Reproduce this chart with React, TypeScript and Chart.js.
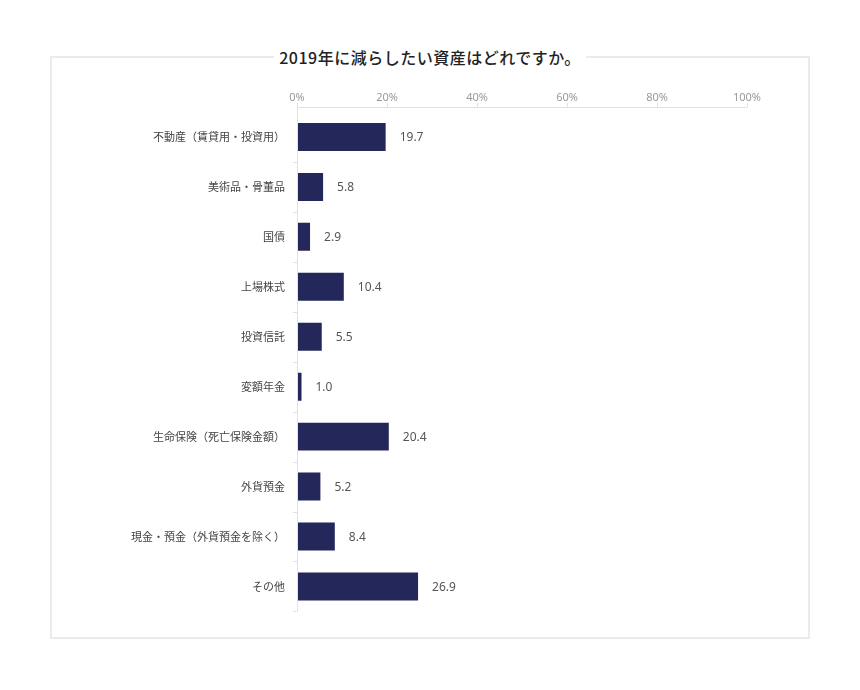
import { useRef, useEffect } from "react";
import { Chart, registerables } from "chart.js";

Chart.register(...registerables);

const title = "2019年に減らしたい資産はどれですか。";

const categories = [
    "不動産（賃貸用・投資用）",
    "美術品・骨董品",
    "国債",
    "上場株式",
    "投資信託",
    "変額年金",
    "生命保険（死亡保険金額）",
    "外貨預金",
    "現金・預金（外貨預金を除く）",
    "その他",
];

const values = [19.7, 5.8, 2.9, 10.4, 5.5, 1.0, 20.4, 5.2, 8.4, 26.9];

const xTicks = [0, 20, 40, 60, 80, 100];

const BAR_COLOR = "#23275a";
const AXIS_COLOR = "#e2e2e2";

// axis lines sit a few px above the first band, like the original
const axisPlugin = {
    id: "axisLines",
    afterDraw(chart: any) {
        const { ctx, chartArea, scales } = chart;
        const x = scales.x;
        const top = chartArea.top - 5;
        ctx.save();
        ctx.strokeStyle = AXIS_COLOR;
        ctx.lineWidth = 1;
        ctx.beginPath();
        ctx.moveTo(chartArea.left, top + 0.5);
        ctx.lineTo(chartArea.right, top + 0.5);
        ctx.moveTo(chartArea.left + 0.5, top);
        ctx.lineTo(chartArea.left + 0.5, chartArea.bottom);
        xTicks.forEach((t) => {
            const px = Math.round(x.getPixelForValue(t)) + 0.5;
            ctx.moveTo(px, top);
            ctx.lineTo(px, top - 4);
        });
        const band = (chartArea.bottom - chartArea.top) / categories.length;
        for (let i = 1; i <= categories.length; i++) {
            const py = Math.round(chartArea.top + band * i) + 0.5;
            ctx.moveTo(chartArea.left, py);
            ctx.lineTo(chartArea.left - 4, py);
        }
        ctx.stroke();
        ctx.restore();
    },
};

const valueLabels = {
    id: "valueLabels",
    afterDatasetsDraw(chart: any) {
        const { ctx } = chart;
        const meta = chart.getDatasetMeta(0);
        ctx.save();
        ctx.fillStyle = "#555";
        ctx.font = "12px 'Noto Sans', sans-serif";
        ctx.textAlign = "left";
        ctx.textBaseline = "middle";
        meta.data.forEach((bar: any, i: number) => {
            ctx.fillText(values[i].toFixed(1), bar.x + 14, bar.y + 1);
        });
        ctx.restore();
    },
};

function BarChart() {
    const canvasRef = useRef<HTMLCanvasElement>(null);
    const chartRef = useRef<Chart | null>(null);

    useEffect(() => {
        if (canvasRef && canvasRef.current) {
            chartRef.current = new Chart(canvasRef.current, {
                type: "bar",
                data: {
                    labels: categories,
                    datasets: [
                        {
                            data: values,
                            backgroundColor: BAR_COLOR,
                            categoryPercentage: 1,
                            barPercentage: 0.56,
                        },
                    ],
                },
                options: {
                    indexAxis: "y",
                    animation: false,
                    responsive: true,
                    maintainAspectRatio: false,
                    layout: { padding: { top: 0, right: 53, bottom: 18, left: 0 } },
                    plugins: {
                        legend: { display: false },
                        tooltip: { enabled: false },
                    },
                    scales: {
                        x: {
                            position: "top",
                            min: 0,
                            max: 100,
                            afterFit: (s: any) => { s.height = 32; },
                            afterBuildTicks: (s: any) => {
                                s.ticks = xTicks.map((v) => ({ value: v }));
                            },
                            grid: { display: false, drawTicks: false },
                            border: { display: false },
                            ticks: {
                                padding: 8,
                                color: "#999",
                                font: { family: "'Noto Sans', sans-serif", size: 11 },
                                callback: (v: any) => v + "%",
                            },
                        },
                        y: {
                            afterFit: (s: any) => { s.width = 237; },
                            grid: { display: false, drawTicks: false },
                            border: { display: false },
                            ticks: {
                                padding: 12,
                                color: "#444",
                                font: { family: "'Noto Sans CJK JP', sans-serif", size: 11 },
                            },
                        },
                    },
                },
                plugins: [axisPlugin, valueLabels],
            });
        }

        return () => {
            if (chartRef.current) {
                chartRef.current.destroy();
                chartRef.current = null;
            }
        };
    }, []);

    return (
        <div style={{ position: "absolute", left: 52, top: 72, width: 740, height: 550 }}>
            <canvas ref={canvasRef} />
        </div>
    );
}

export default function App() {
    return (
        <div style={{ position: "relative", width: 844, height: 674, background: "#fff" }}>
            <div
                style={{
                    position: "absolute",
                    left: 42,
                    top: 48,
                    width: 756,
                    height: 579,
                    border: "2px solid #ebebeb",
                }}
            />
            <div
                style={{
                    position: "absolute",
                    left: 42,
                    top: 38,
                    width: 760,
                    textAlign: "center",
                    lineHeight: "22px",
                }}
            >
                <span
                    style={{
                        background: "#fff",
                        padding: "0 5px",
                        fontFamily: "'Noto Sans CJK JP', sans-serif",
                        fontWeight: 500,
                        fontSize: 16,
                        letterSpacing: "0.5px",
                        color: "#222",
                    }}
                >
                    {title}
                </span>
            </div>
            <BarChart />
        </div>
    );
}
